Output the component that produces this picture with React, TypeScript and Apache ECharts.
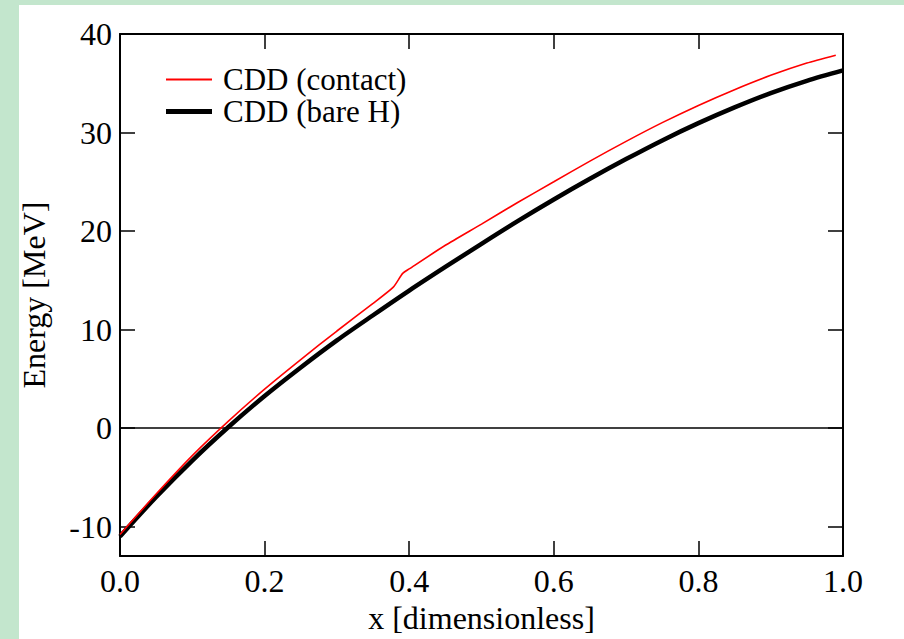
import React, { useEffect, useRef } from "react";
import * as echarts from "echarts";

// x values (dimensionless)
const xBare = [0, 0.05, 0.1, 0.15, 0.2, 0.25, 0.3, 0.35, 0.4, 0.45, 0.5, 0.55, 0.6, 0.65, 0.7, 0.75, 0.8, 0.85, 0.9, 0.95, 1.0];
// CDD (bare H) energies [MeV]
const yBare = [-11.0, -7.0, -3.3, 0.1, 3.25, 6.15, 8.9, 11.45, 13.95, 16.35, 18.7, 21.0, 23.2, 25.3, 27.3, 29.2, 30.95, 32.55, 34.0, 35.25, 36.3];

const xContact = [0, 0.05, 0.1, 0.15, 0.2, 0.25, 0.3, 0.35, 0.378, 0.391, 0.4, 0.45, 0.5, 0.55, 0.6, 0.65, 0.7, 0.75, 0.8, 0.85, 0.9, 0.95, 0.99];
// CDD (contact) energies [MeV]
const yContact = [-10.8, -6.7, -2.8, 0.7, 3.95, 6.95, 9.85, 12.65, 14.3, 15.7, 16.15, 18.55, 20.7, 22.9, 25.0, 27.1, 29.1, 31.0, 32.75, 34.35, 35.8, 37.05, 37.85];

const yTicks = [-10, 0, 10, 20, 30, 40];

const FONT = "'Liberation Serif', 'Times New Roman', serif";

export default function App() {
  const ref = useRef<HTMLDivElement>(null);
  useEffect(() => {
    if (!ref.current) return;
    const chart = echarts.init(ref.current, null, { renderer: "svg" });
    const axisLine = { show: true, onZero: false, lineStyle: { color: "#000", width: 2 } };
    const tick = { show: true, inside: true, length: 15, lineStyle: { color: "#000", width: 1.5 } };
    const labelStyle = { color: "#000", fontFamily: FONT, fontSize: 32 };
    chart.setOption({
      animation: false,
      backgroundColor: "transparent",
      grid: { left: 120, top: 34, right: 61, bottom: 75, containLabel: false },
      legend: {
        orient: "vertical",
        left: 161,
        top: 59,
        itemWidth: 46,
        itemHeight: 14,
        itemGap: 1,
        textStyle: { ...labelStyle, fontSize: 31, padding: [0, 0, 0, 6] },
        data: [
          { name: "CDD (contact)", icon: "path://M0,0H46V2H0Z", itemStyle: { color: "#ff0000", opacity: 1 } },
          { name: "CDD (bare H)", icon: "path://M0,0H46V5H0Z", itemStyle: { color: "#000", opacity: 1 } },
        ],
      },
      xAxis: [
        {
          type: "value",
          min: 0,
          max: 1,
          interval: 0.2,
          position: "bottom",
          axisLine,
          axisTick: tick,
          splitLine: { show: false },
          axisLabel: { ...labelStyle, margin: 9, formatter: (v: number) => v.toFixed(1) },
          name: "x [dimensionless]",
          nameLocation: "middle",
          nameGap: 45,
          nameTextStyle: labelStyle,
        },
        {
          type: "value",
          min: 0,
          max: 1,
          interval: 0.2,
          position: "top",
          axisLine,
          axisTick: tick,
          splitLine: { show: false },
          axisLabel: { show: false },
        },
      ],
      yAxis: [
        {
          type: "value",
          min: -13,
          max: 40,
          position: "left",
          axisLine,
          axisTick: { ...tick, customValues: yTicks },
          splitLine: { show: false },
          axisLabel: { ...labelStyle, margin: 8, customValues: yTicks },
          name: "Energy [MeV]",
          nameLocation: "middle",
          nameGap: 70,
          nameTextStyle: labelStyle,
        },
        {
          type: "value",
          min: -13,
          max: 40,
          position: "right",
          axisLine,
          axisTick: { ...tick, customValues: yTicks },
          splitLine: { show: false },
          axisLabel: { show: false },
        },
      ],
      series: [
        {
          name: "zero",
          type: "line",
          data: [[0, 0], [1, 0]],
          symbol: "none",
          lineStyle: { color: "#000", width: 1.5 },
          silent: true,
          z: 1,
        },
        {
          name: "CDD (contact)",
          type: "line",
          smooth: 0.2,
          data: xContact.map((x, i) => [x, yContact[i]]),
          symbol: "none",
          itemStyle: { color: "#ff0000" },
          lineStyle: { color: "#ff0000", width: 1.6 },
          z: 3,
        },
        {
          name: "CDD (bare H)",
          type: "line",
          smooth: 0.3,
          data: xBare.map((x, i) => [x, yBare[i]]),
          symbol: "none",
          itemStyle: { color: "#000" },
          lineStyle: { color: "#000", width: 4.5 },
          z: 2,
        },
      ],
    });
    return () => chart.dispose();
  }, []);
  return (
    <div style={{ position: "fixed", left: 0, top: 0, width: 904, height: 639, background: "#c3e6cd" }}>
      <div style={{ position: "absolute", left: 19, top: 5, right: 0, bottom: 0, background: "#fff" }} />
      <div ref={ref} style={{ position: "absolute", left: 0, top: 0, width: 904, height: 639 }} />
    </div>
  );
}
